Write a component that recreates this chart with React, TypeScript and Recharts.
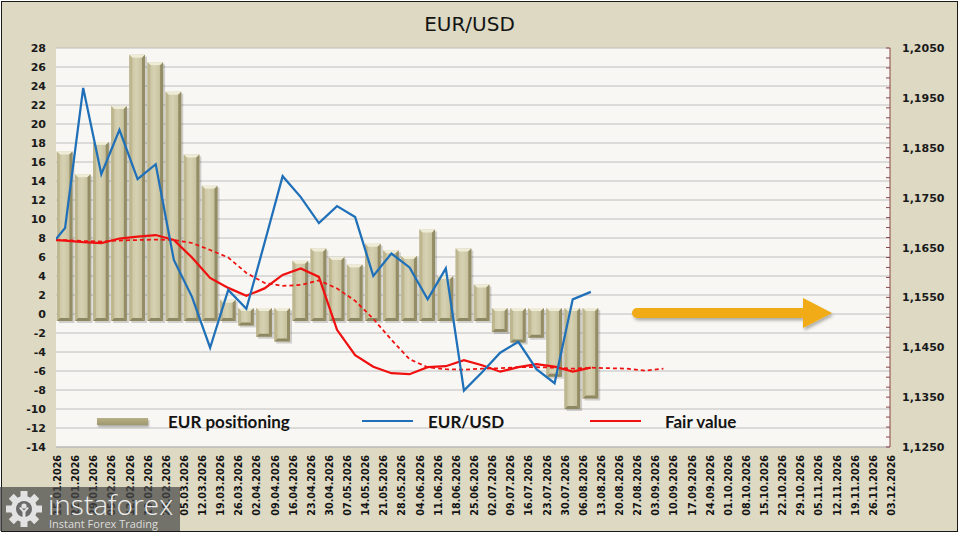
import React from 'react';
import { ComposedChart, Bar, Line, XAxis, YAxis, CartesianGrid, Legend } from 'recharts';

// ---- data ----
const dates = [
  '15.01.2026', '22.01.2026', '29.01.2026', '05.02.2026', '12.02.2026', '19.02.2026', '26.02.2026',
  '05.03.2026', '12.03.2026', '19.03.2026', '26.03.2026', '02.04.2026', '09.04.2026', '16.04.2026',
  '23.04.2026', '30.04.2026', '07.05.2026', '14.05.2026', '21.05.2026', '28.05.2026', '04.06.2026',
  '11.06.2026', '18.06.2026', '25.06.2026', '02.07.2026', '09.07.2026', '16.07.2026', '23.07.2026',
  '30.07.2026', '06.08.2026', '13.08.2026', '20.08.2026', '27.08.2026', '03.09.2026', '10.09.2026',
  '17.09.2026', '24.09.2026', '01.10.2026', '08.10.2026', '15.10.2026', '22.10.2026', '29.10.2026',
  '05.11.2026', '12.11.2026', '19.11.2026', '26.11.2026', '03.12.2026',
];

const positioning = [
  17.1, 14.7, 18.1, 21.9, 27.3, 26.5, 23.4, 16.8, 13.5, 1.5,
  -1.2, -2.4, -2.9, 5.6, 6.9, 6.0, 5.2, 7.4, 6.7, 6.1,
  8.9, 4.0, 6.9, 3.1, -1.9, -3.0, -2.5, -6.6, -10.0, -8.9,
];

const eurusd = [
  1.1689, 1.1970, 1.1797, 1.1886, 1.1787, 1.1817, 1.1625, 1.1551, 1.1449, 1.1565,
  1.1527, 1.1659, 1.1793, 1.1751, 1.1699, 1.1733, 1.1711, 1.1593, 1.1638, 1.1610,
  1.1546, 1.1608, 1.1363, 1.1400, 1.1439, 1.1461, 1.1406, 1.1378, 1.1546, 1.1561,
];

const fairValue = [
  1.1664, 1.1661, 1.1659, 1.1668, 1.1672, 1.1675, 1.1665, 1.1630, 1.1589, 1.1569,
  1.1553, 1.1568, 1.1595, 1.1608, 1.1591, 1.1485, 1.1434, 1.1411, 1.1398, 1.1396,
  1.1410, 1.1412, 1.1424, 1.1414, 1.1401, 1.1410, 1.1416, 1.1411, 1.1401, 1.1409,
];

const fairTrend = [
  1.1665, 1.1663, 1.1662, 1.1664, 1.1665, 1.1666, 1.1665, 1.1659, 1.1645, 1.1630,
  1.1599, 1.1579, 1.1573, 1.1575, 1.1584, 1.1568, 1.1543, 1.1507, 1.1465, 1.1426,
  1.1410, 1.1406, 1.1405, 1.1407, 1.1408, 1.1410, 1.1410, 1.1409, 1.1407, 1.1409,
  1.1408, 1.1407, 1.1403, 1.1407,
];

// values of the three lines at the left edge of the plot
const leadIn = { eurusd: 1.1667, fair: 1.1665, trend: 1.1665 };

const leftTicks = [-14, -12, -10, -8, -6, -4, -2, 0, 2, 4, 6, 8, 10, 12, 14, 16, 18, 20, 22, 24, 26, 28];
const rightLabelTicks = [1.125, 1.135, 1.145, 1.155, 1.165, 1.175, 1.185, 1.195, 1.205];
const rightMinorTicks = Array.from({ length: 41 }, (_, k) => Math.round((1.125 + k * 0.002) * 10000) / 10000);
const dateTickIdx = dates.map((_, i) => i);

const rows = [
  { x: 0, pos: null, eurusd: leadIn.eurusd, fair: leadIn.fair, trend: leadIn.trend },
  ...fairTrend.map((t, i) => ({
    x: i + 0.5,
    pos: i < positioning.length ? positioning[i] : null,
    eurusd: i < eurusd.length ? eurusd[i] : null,
    fair: i < fairValue.length ? fairValue[i] : null,
    trend: t,
  })),
];

// ---- styling ----
const BG = '#DDD9C3';
const PLOT_BG = '#F8F7F3';
const GRID = '#BEBEBE';
const BLUE = '#1F70B8';
const RED = '#F01010';
const AXIS_RED = '#8C4646';
const LABEL_FONT = '"DejaVu Sans", Verdana, sans-serif';
const BAR_W = 15.7;

const BarShape = (props: any) => {
  const { x, y, width, height, payload } = props;
  const v = payload ? payload.pos : null;
  if (v == null || !isFinite(x) || !isFinite(y)) return null;
  const cx = x + width / 2;
  const w = BAR_W;
  const x0 = cx - w / 2;
  let top = Math.min(y, y + height);
  let bottom = Math.max(y, y + height);
  if (v >= 0) bottom += 7;
  else top -= 6;
  const b = 3;
  const h = bottom - top;
  return (
    <g>
      <rect x={x0 + 2} y={top + 2} width={w} height={h} fill="rgba(0,0,0,0.16)" />
      <rect x={x0} y={top} width={w} height={h} fill="url(#barFace)" />
      <polygon points={`${x0},${top} ${x0 + w},${top} ${x0 + w - b},${top + b} ${x0 + b},${top + b}`} fill="#EEEBD6" />
      <polygon points={`${x0},${bottom} ${x0 + w},${bottom} ${x0 + w - b},${bottom - b} ${x0 + b},${bottom - b}`} fill="#8E8862" />
      <polygon points={`${x0},${top} ${x0 + b},${top + b} ${x0 + b},${bottom - b} ${x0},${bottom}`} fill="#BDB68E" />
      <polygon points={`${x0 + w},${top} ${x0 + w - b},${top + b} ${x0 + w - b},${bottom - b} ${x0 + w},${bottom}`} fill="#938C65" />
    </g>
  );
};

const XTick = (props: any) => {
  const { x, y, payload } = props;
  const label = dates[payload.value];
  if (label == null) return null;
  return (
    <text
      transform={`translate(${x + 5},${y}) rotate(-90)`}
      textAnchor="end"
      fontFamily={LABEL_FONT}
      fontWeight="bold"
      fontSize={9.6}
      fill="#141414"
    >
      {label}
    </text>
  );
};

const RightTick = (props: any) => {
  const { x, y, payload } = props;
  const axisX = x - 12;
  const v = payload.value;
  const isLabel = rightLabelTicks.some((t) => Math.abs(t - v) < 1e-6);
  return (
    <g>
      <line x1={axisX - 4} y1={y} x2={axisX} y2={y} stroke={AXIS_RED} strokeWidth={1} />
      {isLabel && (
        <text x={x} y={y} dy={4} textAnchor="start" fontFamily={LABEL_FONT} fontWeight="bold" fontSize={11} fill="#1A1A1A">
          {v.toFixed(4).replace('.', ',')}
        </text>
      )}
    </g>
  );
};

const legendItems = [
  { kind: 'bar', label: 'EUR positioning', iconX: 97, textX: 168 },
  { kind: 'blue', label: 'EUR/USD', iconX: 362, textX: 428 },
  { kind: 'red', label: 'Fair value', iconX: 590, textX: 665 },
];

const LegendBox = () => (
  <div style={{ position: 'relative', width: 964, height: 26 }}>
    {legendItems.map((it) => (
      <React.Fragment key={it.label}>
        {it.kind === 'bar' ? (
          <div
            style={{
              position: 'absolute', left: it.iconX, top: 9, width: 51, height: 7,
              background: 'linear-gradient(#B7B088, #9F986E)', boxShadow: '1px 2px 2px rgba(0,0,0,0.3)',
            }}
          />
        ) : (
          <div
            style={{
              position: 'absolute', left: it.iconX, top: 11, width: 51, height: 2,
              background: it.kind === 'blue' ? BLUE : RED,
            }}
          />
        )}
        <div
          style={{
            position: 'absolute', left: it.textX, top: 2, lineHeight: '22px', fontFamily: 'Lato, "Open Sans", sans-serif',
            fontWeight: 700, fontSize: 17, color: '#141414', whiteSpace: 'nowrap',
          }}
        >
          {it.label}
        </div>
      </React.Fragment>
    ))}
  </div>
);

const Gear = ({ cx, cy }: { cx: number; cy: number }) => {
  const teeth = Array.from({ length: 8 }, (_, k) => k * 45);
  return (
    <g transform={`translate(${cx},${cy})`} fill="#E2E2E2">
      {teeth.map((a) => (
        <rect key={a} x={-3.5} y={-18} width={7} height={8} transform={`rotate(${a})`} />
      ))}
      <circle r={13} />
      <circle r={8} fill="#6A6A6A" />
      <circle cx={0} cy={-3} r={2.6} fill="#E2E2E2" />
      <path d="M-5,-1 L-1.5,3 L-1.5,9 L1.5,9 L1.5,3 L5,-1 L3,-2 L0,1.5 L-3,-2 Z" fill="#E2E2E2" />
    </g>
  );
};

export default function App() {
  return (
    <div style={{ position: 'absolute', left: 0, top: 0, width: 964, height: 533, background: '#FFFFFF', overflow: 'hidden' }}>
      <div
        style={{
          position: 'absolute', left: 1, top: 1, width: 955, height: 529, background: BG, border: '1px solid #1A1A1A',
        }}
      />
      <div style={{ position: 'absolute', left: 0, top: 0 }}>
        <ComposedChart width={964} height={533} data={rows} margin={{ top: 48, right: 0, bottom: 0, left: 0 }}>
          <defs>
            <linearGradient id="barFace" x1="0" y1="0" x2="1" y2="0">
              <stop offset="0%" stopColor="#C7C19D" />
              <stop offset="45%" stopColor="#D6D1B2" />
              <stop offset="100%" stopColor="#BFB994" />
            </linearGradient>
          </defs>
          <CartesianGrid xAxisId="x" yAxisId="L" vertical={false} horizontal stroke={GRID} strokeWidth={1} fill={PLOT_BG} fillOpacity={1} />
          <XAxis
            xAxisId="x"
            type="number"
            dataKey="x"
            domain={[0, 46]}
            ticks={dateTickIdx}
            interval={0}
            allowDataOverflow
            height={86}
            tickSize={0}
            tickMargin={8}
            tickLine={false}
            axisLine={{ stroke: '#B5B5B5' }}
            tick={<XTick />}
          />
          <YAxis
            yAxisId="L"
            orientation="left"
            width={56}
            domain={[-14, 28]}
            ticks={leftTicks}
            interval={0}
            allowDataOverflow
            tickSize={0}
            tickMargin={10}
            tickLine={false}
            axisLine={false}
            tick={{ fontFamily: LABEL_FONT, fontWeight: 'bold', fontSize: 11, fill: '#1A1A1A' }}
          />
          <YAxis
            yAxisId="R"
            orientation="right"
            width={74}
            domain={[1.125, 1.205]}
            ticks={rightMinorTicks}
            interval={0}
            allowDataOverflow
            tickSize={0}
            tickMargin={12}
            tickLine={false}
            axisLine={{ stroke: AXIS_RED, strokeWidth: 1 }}
            tick={<RightTick />}
          />
          <Bar xAxisId="x" yAxisId="L" dataKey="pos" name="EUR positioning" barSize={16} shape={<BarShape />} isAnimationActive={false} />
          <Line xAxisId="x" yAxisId="R" dataKey="trend" type="linear" stroke={RED} strokeWidth={1.75} strokeDasharray="4 3" dot={false} activeDot={false} isAnimationActive={false} legendType="none" />
          <Line xAxisId="x" yAxisId="R" dataKey="fair" name="Fair value" type="linear" stroke={RED} strokeWidth={2.25} dot={false} activeDot={false} isAnimationActive={false} />
          <Line xAxisId="x" yAxisId="R" dataKey="eurusd" name="EUR/USD" type="linear" stroke={BLUE} strokeWidth={2.25} dot={false} activeDot={false} isAnimationActive={false} />
          <Legend verticalAlign="middle" align="center" layout="horizontal" wrapperStyle={{ left: 0, top: 409, width: 964, height: 26 }} content={() => <LegendBox />} />
        </ComposedChart>
      </div>
      <svg width={964} height={533} style={{ position: 'absolute', left: 0, top: 0, pointerEvents: 'none' }}>
        <defs>
          <filter id="arrowShadow" x="-10%" y="-50%" width="120%" height="200%">
            <feDropShadow dx="1.5" dy="2.5" stdDeviation="1.5" floodColor="#000" floodOpacity="0.3" />
          </filter>
        </defs>
        <text x={469.5} y={31} textAnchor="middle" fontFamily={LABEL_FONT} fontSize={20} fill="#141414">
          EUR/USD
        </text>
        <g filter="url(#arrowShadow)" fill="#F0AB12">
          <rect x={632} y={308} width={174} height={10} rx={5} />
          <polygon points="803,298 832,313 803,328" />
        </g>
        <rect x={0} y={487} width={180} height={44} fill="rgba(72,72,72,0.72)" />
        <Gear cx={24} cy={509} />
        <text x={48} y={515} fontFamily='"Open Sans", sans-serif' fontWeight={300} fontSize={28} fill="#EEEEEE">
          instaforex
        </text>
        <text x={49} y={528} fontFamily='"Open Sans", sans-serif' fontSize={11} fill="#DDDDDD">
          Instant Forex Trading
        </text>
      </svg>
    </div>
  );
}
